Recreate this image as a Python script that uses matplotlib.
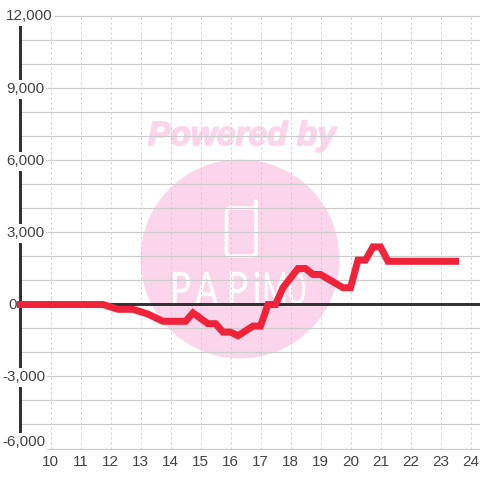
import matplotlib
matplotlib.use("Agg")
import matplotlib.pyplot as plt
import matplotlib.patheffects as pe
from matplotlib.font_manager import FontProperties
from matplotlib.patches import Circle, FancyBboxPatch, PathPatch
from matplotlib.textpath import TextPath
from matplotlib.transforms import Affine2D

plt.rcParams['font.family'] = ['Liberation Sans', 'DejaVu Sans']

# chart data
hours = [9.0, 11.75, 12.25, 12.75, 13.25, 13.75, 14.5, 14.75, 15.25, 15.5, 15.75, 16.0, 16.25,
         16.75, 17.0, 17.25, 17.5, 17.75, 18.25, 18.5, 18.75, 19.0, 19.75, 20.0, 20.25, 20.5,
         20.75, 21.0, 21.25, 23.5]
values = [0, 0, -200, -200, -400, -700, -700, -350, -800, -800, -1150, -1150, -1300,
          -900, -900, 0, 0, 700, 1500, 1500, 1250, 1250, 700, 700, 1850, 1850,
          2400, 2400, 1800, 1800]
x_ticks = list(range(10, 25))
y_grid = list(range(-6000, 13000, 1000))
y_ticks = [12000, 9000, 6000, 3000, 0, -3000, -6000]
y_labels = ['12,000', '9,000', '6,000', '3,000', '0', '-3,000', '-6,000']
# label offsets from the axis line, in pixels
y_label_dx = [-14, -14, -14, -14, -12, -18, -18]
y_label_dy = [0, -1, -1, -1, -1, -1, 6]

# watermark logo letters: letter, left and right edge in pixels
logo_letters = ['P', 'A', 'P', 'i', 'M', 'O']
logo_left = [173, 195, 230, 255, 265, 289]
logo_right = [190, 218, 247, 259, 285, 305]

DARK = '#333333'
LABEL = '#444444'
GRID = '#cccccc'
PINK = '#fbd5ec'
RED = '#f0233a'
px = 72. / 100.

fig = plt.figure(figsize=(4.8, 4.8), dpi=100)

# watermark sits behind the chart, in pixel coordinates
bg = fig.add_axes([0, 0, 1, 1])
bg.set_xlim(0, 480)
bg.set_ylim(480, 0)
bg.axis('off')
bg.add_patch(Circle((240, 259), 99.5, color=PINK, lw=0))
bg.text(242, 145, 'Powered by', color=PINK, fontsize=24.1, fontweight='bold', fontstyle='italic',
        ha='center', va='baseline',
        path_effects=[pe.withStroke(linewidth=1.2, foreground=PINK)])
bg.add_patch(FancyBboxPatch((227.5, 209), 27.5, 46, boxstyle='round,pad=1,rounding_size=4',
                            fc='none', ec='white', lw=3.5 * px))
bg.plot([255.5, 255.5], [209, 201], color='white', lw=4 * px, solid_capstyle='round')
for letter, left, right in zip(logo_letters, logo_left, logo_right):
    logo = TextPath((0, 0), letter, size=10, prop=FontProperties(family='Lato'))
    box = logo.get_extents()
    trans = (Affine2D().translate(-box.x0, -box.y0)
             .scale((right - left) / box.width, -33 / box.height).translate(left, 305))
    bg.add_patch(PathPatch(trans.transform_path(logo), fc='white', ec='white', lw=0.3))

# main chart, transparent on top of the watermark
ax = fig.add_axes([20 / 480, 1 - 448.5 / 480, 460 / 480, 432 / 480])
ax.patch.set_alpha(0)
ax.set_xlim(9 - 0.5 / 30., 9 + 459.5 / 30.)
ax.set_ylim(-6000, 12000)
for s in ['top', 'right', 'bottom']:
    ax.spines[s].set_visible(False)
ax.spines['left'].set_color(DARK)
ax.spines['left'].set_linewidth(3 * px)

ax.set_yticks(y_grid)
ax.set_yticklabels([])
ax.set_xticks(x_ticks)
ax.set_xticklabels([str(h) for h in x_ticks], fontsize=11, color=LABEL)
ax.tick_params(length=0)
ax.tick_params(axis='x', pad=5)
ax.set_axisbelow(True)
ax.grid(axis='y', color=GRID, linewidth=1.2 * px)
ax.grid(axis='x', color=GRID, linewidth=1 * px, linestyle=(0, (2, 3)))
for gl in ax.get_ygridlines():
    gl.set_clip_on(False)

ax.axhline(0, color=DARK, linewidth=3 * px, zorder=2.2, clip_on=False)

for val, lab, dx, dy in zip(y_ticks, y_labels, y_label_dx, y_label_dy):
    ax.annotate(lab, xy=(0, val), xycoords=ax.get_yaxis_transform(), xytext=(dx, dy),
                textcoords='offset pixels', ha='left', va='center', fontsize=11, color=LABEL,
                annotation_clip=False, zorder=3,
                bbox=dict(fc='white', ec='none', pad=1.5))

ax.plot(hours, values, color=RED, linewidth=7 * px, solid_capstyle='projecting',
        solid_joinstyle='miter', clip_on=False, zorder=4)

plt.savefig('out.png', dpi=100)
